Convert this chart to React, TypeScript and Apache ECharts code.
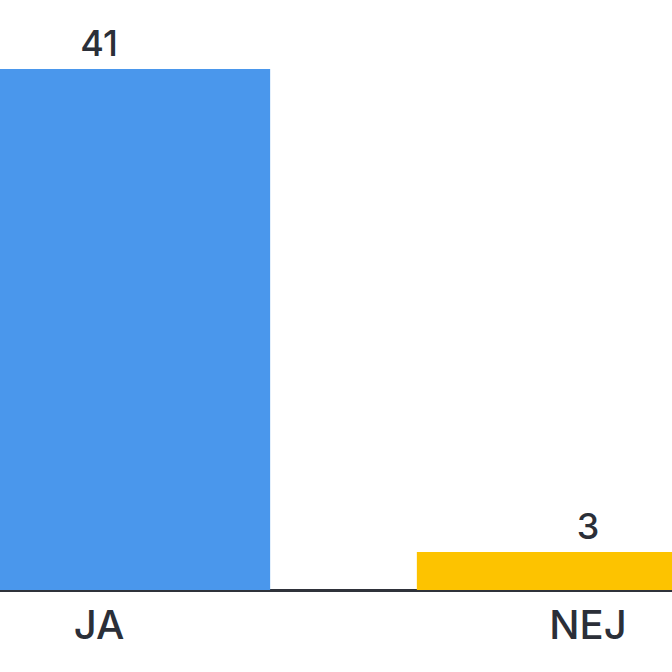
import React, { useEffect, useRef } from "react";
import * as echarts from "echarts";

const categories = ["JA", "NEJ"];
const values = [41, 3];
const colors = ["#4a97ec", "#fdc300"];

const OFFSET = 200;

export default function App() {
  const ref = useRef<HTMLDivElement>(null);
  useEffect(() => {
    if (!ref.current) return;
    const chart = echarts.init(ref.current, null, { renderer: "svg" });
    chart.setOption({
      animation: false,
      backgroundColor: "#ffffff",
      grid: { left: OFFSET - 145.5, width: 978, top: 69, height: 521, containLabel: false },
      xAxis: {
        type: "category",
        data: categories,
        axisTick: { show: false },
        axisLine: { show: true, lineStyle: { color: "#2f323a", width: 3 } },
        axisLabel: {
          color: "#2b2f38",
          fontFamily: "Inter",
          fontSize: 40,
          fontWeight: 500,
          margin: 14,
        },
      },
      yAxis: { type: "value", min: 0, max: 41, show: false, splitLine: { show: false } },
      series: [
        {
          type: "bar",
          barWidth: "70%",
          data: values.map((v, i) => ({ value: v, itemStyle: { color: colors[i] } })),
          label: {
            show: true,
            position: "top",
            distance: 8,
            color: "#2b2f38",
            fontFamily: "Inter",
            fontSize: 36,
            fontWeight: 500,
          },
        },
      ],
    });
    return () => chart.dispose();
  }, []);
  return (
    <div style={{ position: "fixed", left: 0, top: 0, width: 672, height: 672, overflow: "hidden", background: "#fff" }}>
      <div ref={ref} style={{ position: "absolute", left: -OFFSET, top: 0, width: 1100, height: 672 }} />
    </div>
  );
}
